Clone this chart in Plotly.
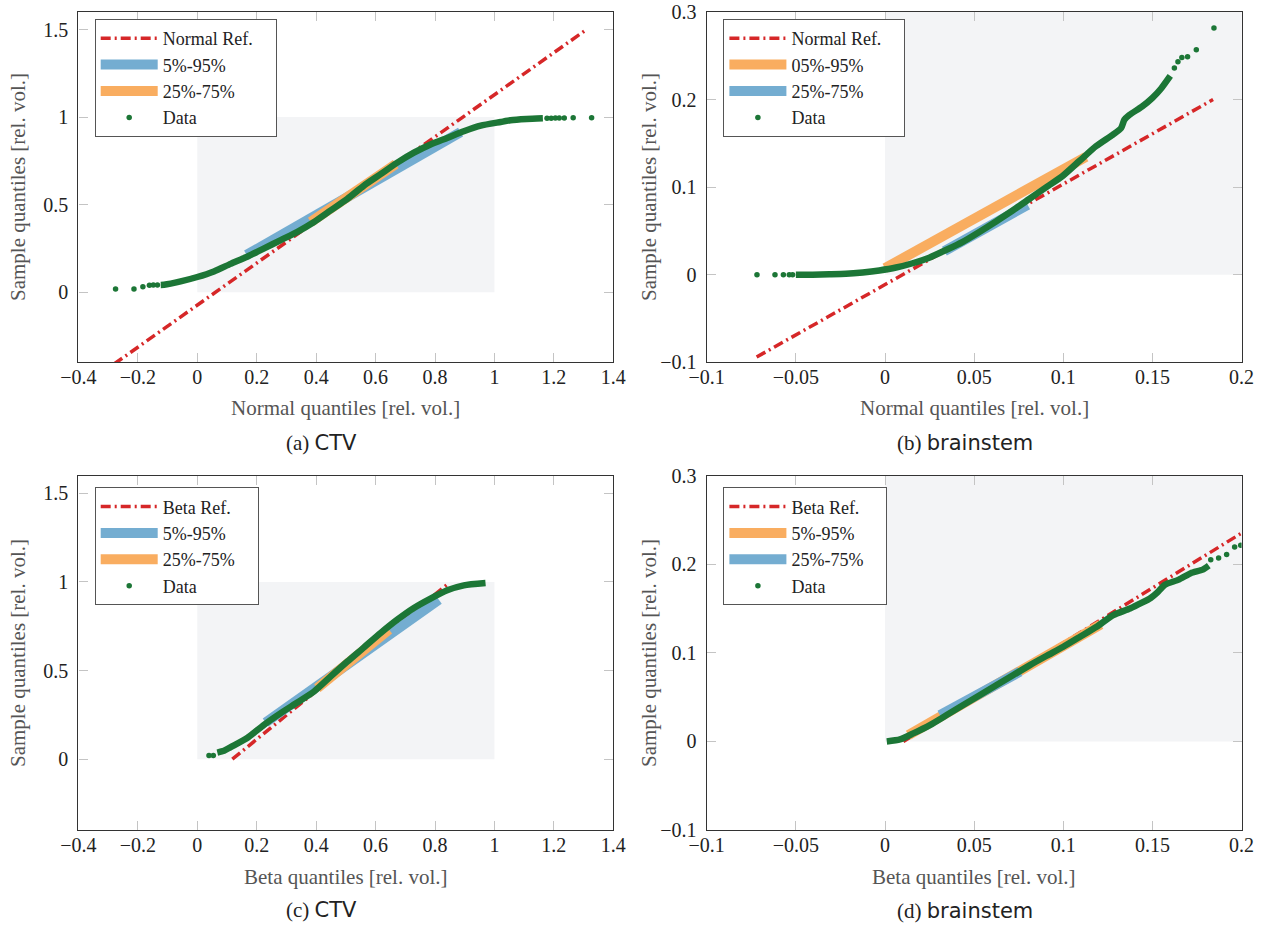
import plotly.graph_objects as go

W, H = 1266, 928

# ---------------- data ----------------
# (a) CTV, normal quantiles
a_ref_x = [-0.28, 1.31]
a_ref_y = [-0.41, 1.50]
a_b1_x = [0.166, 0.886]     # 5%-95%
a_b1_y = [0.213, 0.914]
a_b2_x = [0.382, 0.668]     # 25%-75%
a_b2_y = [0.401, 0.731]
a_body_x = [-0.123, -0.112, -0.056, 0.0, 0.056, 0.112, 0.168, 0.225, 0.281, 0.337, 0.393,
            0.449, 0.505, 0.561, 0.617, 0.673, 0.729, 0.785, 0.841, 0.897, 0.954, 1.021,
            1.054, 1.108, 1.163]
a_body_y = [0.042, 0.043, 0.062, 0.087, 0.119, 0.162, 0.203, 0.250, 0.298, 0.345, 0.401,
            0.467, 0.533, 0.609, 0.674, 0.740, 0.797, 0.844, 0.881, 0.919, 0.951, 0.972,
            0.982, 0.989, 0.993]
a_dot_x = [-0.275, -0.213, -0.183, -0.161, -0.148, -0.134, 1.177, 1.191, 1.205, 1.218, 1.235, 1.265, 1.327]
a_dot_y = [0.019, 0.019, 0.032, 0.040, 0.042, 0.042, 0.994, 0.994, 0.995, 0.995, 0.995, 0.996, 0.996]

# (b) brainstem, normal quantiles
b_ref_x = [-0.072, 0.184]
b_ref_y = [-0.094, 0.200]
b_b1_x = [0.0, 0.1127]      # 05%-95%
b_b1_y = [0.0075, 0.1347]
b_b2_x = [0.0333, 0.080]    # 25%-75%
b_b2_y = [0.027, 0.0797]
b_body_x = [-0.050, -0.0406, -0.0312, -0.0219, -0.0125, -0.0032, 0.0062, 0.0155, 0.0248, 0.0342,
            0.0436, 0.0529, 0.0623, 0.0716, 0.0809, 0.0903, 0.0997, 0.109, 0.1183, 0.1277,
            0.1324, 0.1342, 0.137, 0.1441, 0.150, 0.155, 0.160]
b_body_y = [0.0, 0.0, 0.0004, 0.001, 0.0026, 0.0049, 0.0082, 0.0131, 0.0195, 0.0282,
            0.0376, 0.0489, 0.0609, 0.0733, 0.0865, 0.0997, 0.1129, 0.1298, 0.1467, 0.1598,
            0.1674, 0.1768, 0.1824, 0.1919, 0.202, 0.213, 0.227]
b_dot_x = [-0.0718, -0.0617, -0.057, -0.0537, -0.0518, 0.1623, 0.1643, 0.1665, 0.1697, 0.1746, 0.1845]
b_dot_y = [0.0, 0.0, 0.0, 0.0, 0.0, 0.236, 0.2433, 0.248, 0.249, 0.257, 0.2817]

# (c) CTV, beta quantiles
c_ref_x = [0.118, 0.847]
c_ref_y = [0.0, 0.994]
c_b1_x = [0.230, 0.813]
c_b1_y = [0.207, 0.900]
c_b2_x = [0.404, 0.645]
c_b2_y = [0.401, 0.731]
c_body_x = [0.0675, 0.090, 0.1125, 0.168, 0.2245, 0.281, 0.3366, 0.393, 0.449, 0.505, 0.561,
            0.617, 0.673, 0.729, 0.785, 0.841, 0.897, 0.970]
c_body_y = [0.037, 0.047, 0.068, 0.119, 0.194, 0.260, 0.320, 0.382, 0.467, 0.551, 0.631,
            0.712, 0.787, 0.853, 0.906, 0.953, 0.981, 0.994]
c_dot_x = [0.0394, 0.054]
c_dot_y = [0.020, 0.020]

# (d) brainstem, beta quantiles
d_ref_x = [0.0103, 0.1995]
d_ref_y = [0.0, 0.2346]
d_b1_x = [0.0131, 0.121]    # 5%-95%
d_b1_y = [0.0072, 0.132]
d_b2_x = [0.0308, 0.0757]   # 25%-75%
d_b2_y = [0.0298, 0.0787]
d_body_x = [0.001, 0.0084, 0.0159, 0.0252, 0.0346, 0.0439, 0.0533, 0.0626, 0.072, 0.0813,
            0.0907, 0.100, 0.1094, 0.1187, 0.128, 0.1374, 0.1441, 0.149, 0.1525, 0.157,
            0.1648, 0.1715, 0.1782, 0.1816]
d_body_y = [0.0, 0.0023, 0.0091, 0.0185, 0.0298, 0.0411, 0.0524, 0.0637, 0.075, 0.0862,
            0.0967, 0.1069, 0.1182, 0.1295, 0.1427, 0.150, 0.1566, 0.162, 0.1677, 0.177,
            0.1827, 0.190, 0.194, 0.1985]
d_dot_x = [0.1827, 0.1871, 0.1916, 0.1961, 0.1995]
d_dot_y = [0.205, 0.207, 0.211, 0.2195, 0.2214]

ctv_ticks_x = [-0.4, -0.2, 0, 0.2, 0.4, 0.6, 0.8, 1, 1.2, 1.4]
ctv_ticks_x_txt = ["\u22120.4", "\u22120.2", "0", "0.2", "0.4", "0.6", "0.8", "1", "1.2", "1.4"]
ctv_ticks_y = [0, 0.5, 1, 1.5]
ctv_ticks_y_txt = ["0", "0.5", "1", "1.5"]
bs_ticks_x = [-0.1, -0.05, 0, 0.05, 0.1, 0.15, 0.2]
bs_ticks_x_txt = ["\u22120.1", "\u22120.05", "0", "0.05", "0.1", "0.15", "0.2"]
bs_ticks_y = [-0.1, 0, 0.1, 0.2, 0.3]
bs_ticks_y_txt = ["\u22120.1", "0", "0.1", "0.2", "0.3"]

# ---------------- styling ----------------
RED = "#d62728"
BLUE = "#74add1"
ORANGE = "#f9ad60"
GREEN = "#1c7636"
SHADE = "#f3f4f6"
SERIF = "Liberation Serif, Times New Roman, serif"
PAD = "\u00a0\u00a0\u00a0\u00a0"
EPS = 1e-6

fig = go.Figure()

def px_x(p):
    return p / W

def px_y(p):
    return 1 - p / H

panels = [
    dict(xa="x", ya="y", lg="legend",
         dom_x=(78.4, 613.3), dom_y=(12.0, 362.3), xr=[-0.4, 1.4], yr=[-0.4, 1.6],
         ref=(a_ref_x, a_ref_y), b1=(a_b1_x, a_b1_y), b2=(a_b2_x, a_b2_y),
         body=(a_body_x, a_body_y), dots=(a_dot_x, a_dot_y),
         refname="Normal Ref.", b1name="5%-95%", b1col=BLUE, b2name="25%-75%", b2col=ORANGE,
         tx=(ctv_ticks_x, ctv_ticks_x_txt), ty=(ctv_ticks_y, ctv_ticks_y_txt),
         leg=(94.7, 19)),
    dict(xa="x2", ya="y2", lg="legend2",
         dom_x=(706.7, 1241.6), dom_y=(12.0, 362.3), xr=[-0.1, 0.2], yr=[-0.1, 0.3],
         ref=(b_ref_x, b_ref_y), b1=(b_b1_x, b_b1_y), b2=(b_b2_x, b_b2_y),
         body=(b_body_x, b_body_y), dots=(b_dot_x, b_dot_y),
         refname="Normal Ref.", b1name="05%-95%", b1col=ORANGE, b2name="25%-75%", b2col=BLUE,
         tx=(bs_ticks_x, bs_ticks_x_txt), ty=(bs_ticks_y, bs_ticks_y_txt),
         leg=(723.4, 19)),
    dict(xa="x3", ya="y3", lg="legend3",
         dom_x=(78.4, 613.3), dom_y=(475.7, 830), xr=[-0.4, 1.4], yr=[-0.4, 1.6],
         ref=(c_ref_x, c_ref_y), b1=(c_b1_x, c_b1_y), b2=(c_b2_x, c_b2_y),
         body=(c_body_x, c_body_y), dots=(c_dot_x, c_dot_y),
         refname="Beta Ref.", b1name="5%-95%", b1col=BLUE, b2name="25%-75%", b2col=ORANGE,
         tx=(ctv_ticks_x, ctv_ticks_x_txt), ty=(ctv_ticks_y, ctv_ticks_y_txt),
         leg=(94.7, 487.3)),
    dict(xa="x4", ya="y4", lg="legend4",
         dom_x=(706.7, 1241.6), dom_y=(475.7, 830), xr=[-0.1, 0.2], yr=[-0.1, 0.3],
         ref=(d_ref_x, d_ref_y), b1=(d_b1_x, d_b1_y), b2=(d_b2_x, d_b2_y),
         body=(d_body_x, d_body_y), dots=(d_dot_x, d_dot_y),
         refname="Beta Ref.", b1name="5%-95%", b1col=ORANGE, b2name="25%-75%", b2col=BLUE,
         tx=(bs_ticks_x, bs_ticks_x_txt), ty=(bs_ticks_y, bs_ticks_y_txt),
         leg=(723.4, 487.3)),
]

layout_axes = {}
shapes = []
for p in panels:
    xa, ya, lg = p["xa"], p["ya"], p["lg"]
    common = dict(xaxis=xa, yaxis=ya, legend=lg)
    fig.add_trace(go.Scatter(x=p["ref"][0], y=p["ref"][1], mode="lines", name=p["refname"] + PAD,
                             line=dict(color=RED, width=3.5, dash="10px,4px,2px,4px"), **common))
    fig.add_trace(go.Scatter(x=p["b1"][0], y=p["b1"][1], mode="lines", name=p["b1name"],
                             line=dict(color=p["b1col"], width=10), **common))
    fig.add_trace(go.Scatter(x=p["b2"][0], y=p["b2"][1], mode="lines", name=p["b2name"] + PAD,
                             line=dict(color=p["b2col"], width=10), **common))
    fig.add_trace(go.Scatter(x=p["body"][0], y=p["body"][1], mode="lines", showlegend=False,
                             line=dict(color=GREEN, width=6.5, shape="spline", smoothing=0.6), **common))
    fig.add_trace(go.Scatter(x=p["dots"][0], y=p["dots"][1], mode="markers", name="Data",
                             marker=dict(color=GREEN, size=5.5), **common))

    xkey = "xaxis" + xa[1:]
    ykey = "yaxis" + ya[1:]
    axis_common = dict(showgrid=False, zeroline=False, showline=True, mirror="ticks",
                       linecolor="#333333", linewidth=1.2, ticks="inside", ticklen=9,
                       tickcolor="#c4c4c4", tickwidth=1, automargin=False,
                       ticklabeloverflow="allow",
                       tickfont=dict(family=SERIF, size=20, color="#222222"))
    layout_axes[xkey] = dict(domain=[px_x(p["dom_x"][0]), px_x(p["dom_x"][1])],
                             range=[p["xr"][0] - EPS, p["xr"][1] + EPS],
                             anchor=ya, tickvals=p["tx"][0], ticktext=p["tx"][1],
                             ticklabelstandoff=-3, **axis_common)
    layout_axes[ykey] = dict(domain=[px_y(p["dom_y"][1]), px_y(p["dom_y"][0])],
                             range=[p["yr"][0] - EPS, p["yr"][1] + EPS],
                             anchor=xa, tickvals=p["ty"][0], ticktext=p["ty"][1],
                             ticklabelstandoff=5, **axis_common)
    shapes.append(dict(type="rect", xref=xa, yref=ya, x0=0, x1=1, y0=0, y1=1,
                       fillcolor=SHADE, line=dict(width=0), layer="below"))
    layout_axes[lg] = dict(x=px_x(p["leg"][0]), y=px_y(p["leg"][1]), xanchor="left", yanchor="top",
                           xref="paper", yref="paper",
                           bgcolor="white", bordercolor="#555555", borderwidth=1,
                           font=dict(family=SERIF, size=18, color="#222222"),
                           itemwidth=57, tracegroupgap=0)

annotations = []
def label(text, x, y, angle=0, size=21, color="#555555", family=SERIF):
    annotations.append(dict(text=text, x=px_x(x), y=px_y(y), xref="paper", yref="paper",
                            xanchor="center", yanchor="middle", showarrow=False, textangle=angle,
                            font=dict(family=family, size=size, color=color)))

label("Normal quantiles [rel. vol.]", 345.9, 408)
label("Normal quantiles [rel. vol.]", 974.2, 408)
label("Beta quantiles [rel. vol.]", 345.9, 876.7)
label("Beta quantiles [rel. vol.]", 974.2, 876.7)
label("Sample quantiles [rel. vol.]", 18, 187, angle=-90)
label("Sample quantiles [rel. vol.]", 649, 187, angle=-90)
label("Sample quantiles [rel. vol.]", 18, 653, angle=-90)
label("Sample quantiles [rel. vol.]", 649, 653, angle=-90)

def caption(letter, name, x, y):
    txt = "(" + letter + ") <span style=\"font-family:DejaVu Sans\">" + name + "</span>"
    label(txt, x, y, size=21, color="#222222")

caption("a", "CTV", 321, 443)
caption("b", "brainstem", 965, 443)
caption("c", "CTV", 321, 910)
caption("d", "brainstem", 965, 911)

fig.update_layout(template="none", width=W, height=H, margin=dict(l=0, r=0, t=0, b=0, autoexpand=False),
                  paper_bgcolor="white", plot_bgcolor="white",
                  shapes=shapes, annotations=annotations, **layout_axes)

fig.write_html("out.html")
